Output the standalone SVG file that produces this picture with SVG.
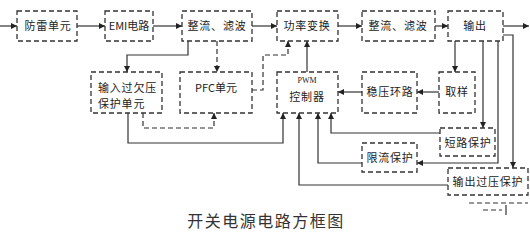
<svg xmlns="http://www.w3.org/2000/svg" width="530" height="234" viewBox="0 0 530 234">
<style>
.box{fill:#fff;stroke:#333;stroke-width:1.3;stroke-dasharray:5 3}
.ln{fill:none;stroke:#333;stroke-width:1.2}
.dl{fill:none;stroke:#333;stroke-width:1.2;stroke-dasharray:5 3}
.t{font-family:"Noto Sans CJK SC","Noto Sans",sans-serif;font-size:11px;fill:#222;letter-spacing:0.8px;text-anchor:middle}
.s{font-family:"Liberation Serif",serif;font-size:8px;fill:#222;text-anchor:middle}
.title{font-family:"Noto Sans CJK SC",sans-serif;font-size:16px;fill:#333;letter-spacing:1.5px;text-anchor:middle}
</style>
<defs>
<marker id="a" viewBox="0 0 8 8" refX="8" refY="4" markerWidth="6" markerHeight="6" orient="auto" markerUnits="userSpaceOnUse">
<path d="M0,0 L8,4 L0,8 z" fill="#222"/>
</marker>
</defs>
<rect width="530" height="234" fill="#fff"/>
<g id="connectors">
<path class="ln" d="M0,26 H17" marker-end="url(#a)"/>
<path class="ln" d="M77,26 H105" marker-end="url(#a)"/>
<path class="ln" d="M153,26 H182" marker-end="url(#a)"/>
<path class="ln" d="M252,26 H277" marker-end="url(#a)"/>
<path class="ln" d="M338,26 H362" marker-end="url(#a)"/>
<path class="ln" d="M435,26 H448" marker-end="url(#a)"/>
<path class="ln" d="M503,26 H529" marker-end="url(#a)"/>
<path class="ln" d="M188,41 V55 H127 V72" marker-end="url(#a)"/>
<path class="dl" d="M217,41 V72" marker-end="url(#a)"/>
<path class="dl" d="M252,90 H263 V55 H288 V41" marker-end="url(#a)"/>
<path class="ln" d="M307,72 V41" marker-end="url(#a)"/>
<path class="dl" d="M143,113 V128 H214 V113" marker-end="url(#a)"/>
<path class="ln" d="M128,113 V143 H283 V113" marker-end="url(#a)"/>
<path class="ln" d="M362,92 H338" marker-end="url(#a)"/>
<path class="ln" d="M440,92 H417" marker-end="url(#a)"/>
<path class="ln" d="M455,41 V72" marker-end="url(#a)"/>
<path class="ln" d="M483,41 V128" marker-end="url(#a)"/>
<path class="ln" d="M440,133 H331 V113" marker-end="url(#a)"/>
<path class="ln" d="M498,41 V163 H417" marker-end="url(#a)"/>
<path class="ln" d="M362,163 H318 V113" marker-end="url(#a)"/>
<path class="ln" d="M503,35 H513 V168" marker-end="url(#a)"/>
<path class="ln" d="M448,185 H299 V113" marker-end="url(#a)"/>
<path class="dl" d="M469,203 H528"/>
<path class="dl" d="M483,210 H502"/>
<path class="ln" d="M506,205 V215"/>
</g>
<g id="n1"><rect class="box" x="17" y="11" width="60" height="30"/><text class="t" x="48" y="30">防雷单元</text></g>
<g id="n2"><rect class="box" x="105" y="11" width="48" height="30"/><text class="t" x="129" y="30" style="letter-spacing:0">EMI电路</text></g>
<g id="n3"><rect class="box" x="182" y="11" width="70" height="30"/><text class="t" x="217" y="30">整流、滤波</text></g>
<g id="n4"><rect class="box" x="277" y="11" width="61" height="30"/><text class="t" x="307" y="30">功率变换</text></g>
<g id="n5"><rect class="box" x="362" y="11" width="73" height="30"/><text class="t" x="398" y="30">整流、滤波</text></g>
<g id="n6"><rect class="box" x="448" y="11" width="55" height="30"/><text class="t" x="475" y="30">输出</text></g>
<g id="n7"><rect class="box" x="91" y="72" width="71" height="41"/><text class="t" x="98" y="92" style="text-anchor:start">输入过欠压</text><text class="t" x="98" y="108" style="text-anchor:start">保护单元</text></g>
<g id="n8"><rect class="box" x="180" y="72" width="72" height="41"/><text class="t" x="216" y="92" style="letter-spacing:0">PFC单元</text></g>
<g id="n9"><rect class="box" x="277" y="72" width="61" height="41"/><text class="s" x="307" y="83">PWM</text><text class="t" x="307" y="101">控制器</text></g>
<g id="n10"><rect class="box" x="362" y="72" width="55" height="41"/><text class="t" x="390" y="96">稳压环路</text></g>
<g id="n11"><rect class="box" x="439" y="72" width="36" height="41"/><text class="t" x="457" y="96">取样</text></g>
<g id="n12"><rect class="box" x="440" y="128" width="55" height="28"/><text class="t" x="468" y="147">短路保护</text></g>
<g id="n13"><rect class="box" x="362" y="143" width="55" height="29"/><text class="t" x="390" y="162">限流保护</text></g>
<g id="n14"><rect class="box" x="448" y="168" width="80" height="27"/><text class="t" x="488" y="186">输出过压保护</text></g>
<text class="title" x="266" y="227">开关电源电路方框图</text>
</svg>
